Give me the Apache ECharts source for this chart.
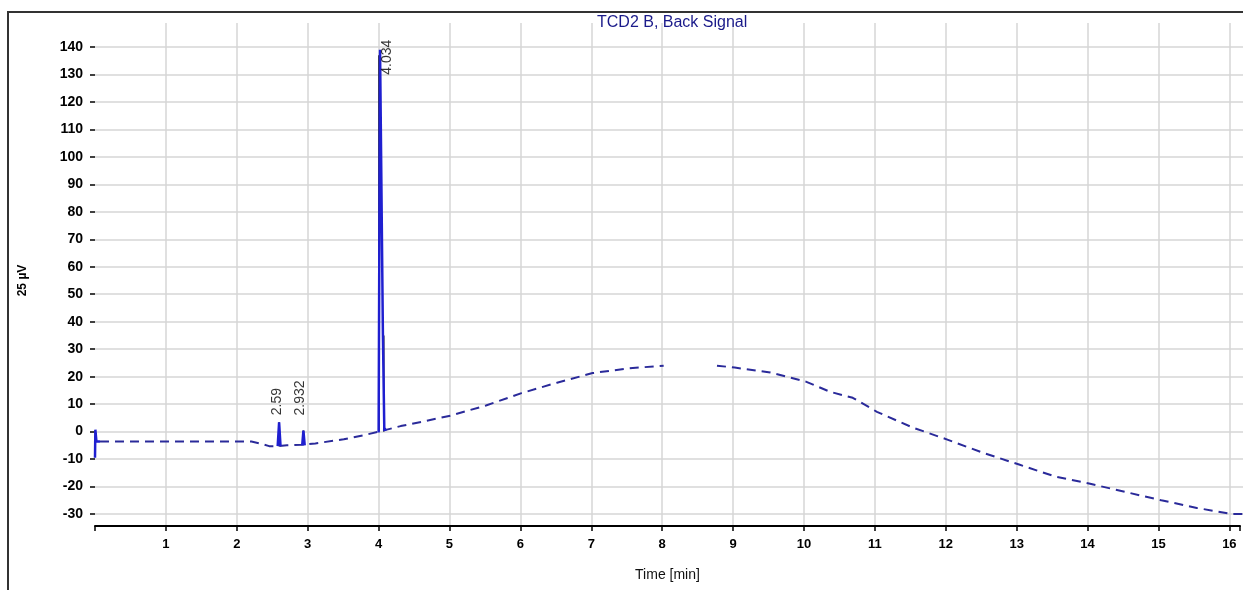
<!DOCTYPE html>
<html>
<head>
<meta charset="utf-8">
<script src="https://cdn.jsdelivr.net/npm/echarts@6/dist/echarts.min.js"></script>
<style>
  html, body { margin: 0; padding: 0; background: #fff; }
  #chart { width: 1243px; height: 590px; }
</style>
</head>
<body>
<div id="chart"></div>
<script>
// signal baseline (dashed trace), time in min / value in 25 µV units
const baseTime = [0.07, 1.0, 2.2, 2.35, 2.45, 2.55, 2.7, 2.9, 3.1, 3.5, 3.8, 4.0, 4.3, 4.6, 5.0, 5.5, 6.0, 6.5, 7.0, 7.5, 8.0,
  null, 8.75, 9.0, 9.5, 10.0, 10.34, 10.66, 11.0, 11.5, 12.0, 12.5, 13.0, 13.5, 14.0, 14.5, 15.0, 15.5, 16.0, 16.15]
const baseValue = [-3.6, -3.6, -3.6, -4.5, -5.3, -5.3, -5.0, -4.8, -4.3, -2.8, -1.2, 0, 2, 3.6, 5.8, 9.5, 14, 17.8, 21.3, 23, 24,
  null, 24, 23.3, 21.5, 18.2, 14.5, 12.3, 7.2, 1.5, -3, -7.8, -12, -16.3, -19, -22, -25, -27.8, -30, -30]

// solid peak traces (start spike, 2.59, 2.932, 4.034)
const peakTime = [0, 0.005, 0.02, 0.07, null, 2.57, 2.59, 2.61, null, 2.915, 2.932, 2.95, null, 3.99, 4.01, 4.05, 4.07, 4.1]
const peakValue = [-9.5, 0.7, -3.6, -3.6, null, -5.3, 3.4, -5.3, null, -5, 0.4, -5, null, -0.3, 139, 36, 0.5, 1]

// integration markers (black)
const markTime = [2.59, 2.59, null, 2.932, 2.932, null, 3.995, 3.995, null, 4.062, 4.062]
const markValue = [-5.3, 3.4, null, -5, 0.4, null, 0, 137, null, 0, 35]

// retention time labels
const rtTime = [2.59, 2.932, 4.034]
const rtTop = [3.4, 0.4, 139]
const rtText = ['2.59', '2.932', '4.034']

const yMin = -30, yMax = 140, yStep = 10
const xMax = 16.15

const pairs = (xs, ys) => xs.map((x, i) => (x === null ? [null, null] : [x, ys[i]]))

const labelOffsets = [[0, -2], [0, -3], [-25, 5]]
const labelDist = [7, 15, 0]

const chart = echarts.init(document.getElementById('chart'), null, { renderer: 'canvas' })

const font = 'Liberation Sans, Arial, sans-serif'

const option = {
  backgroundColor: '#fff',
  animation: false,
  textStyle: { fontFamily: font },
  title: {
    text: 'TCD2 B, Back Signal',
    left: 592,
    top: 10,
    textStyle: { fontSize: 16, fontWeight: 'normal', color: '#1a1a8a', fontFamily: font },
  },
  graphic: [
    {
      type: 'rect',
      shape: { x: 8, y: 12, width: 1300, height: 700 },
      style: { fill: 'none', stroke: '#333', lineWidth: 2 },
      silent: true,
    },
  ],
  grid: [
    { left: 95, right: 0, top: 47, bottom: 76 },
    { left: 95, right: 0, top: 23, bottom: 64 },
  ],
  xAxis: [
    { gridIndex: 0, type: 'value', min: 0, max: xMax, show: false },
    {
      gridIndex: 1,
      type: 'value',
      min: 0,
      max: xMax,
      interval: 1,
      name: 'Time [min]',
      nameLocation: 'middle',
      nameGap: 42,
      nameTextStyle: { fontSize: 14, color: '#111' },
      axisLine: { onZero: false, lineStyle: { color: '#000', width: 2 } },
      axisTick: { length: 5, lineStyle: { color: '#000', width: 1.5 } },
      axisLabel: {
        color: '#000',
        fontSize: 13,
        fontWeight: 'bold',
        margin: 12,
        formatter: v => (v > 0 && Number.isInteger(v) ? String(v) : ''),
      },
      splitLine: { show: true, showMinLine: false, showMaxLine: false, lineStyle: { color: '#d6d6d6', width: 1.5 } },
    },
  ],
  yAxis: [
    {
      gridIndex: 0,
      type: 'value',
      min: yMin,
      max: yMax,
      interval: yStep,
      name: '25 µV',
      nameLocation: 'middle',
      nameRotate: 90,
      nameGap: 66,
      nameTextStyle: { fontSize: 12, fontWeight: 'bold', color: '#000' },
      axisLine: { show: false },
      axisTick: { show: true, length: 5, lineStyle: { color: '#000', width: 1.5 } },
      axisLabel: { color: '#000', fontSize: 14, fontWeight: 'bold', margin: 12 },
      splitLine: { lineStyle: { color: '#d6d6d6', width: 1.5 } },
    },
    { gridIndex: 1, type: 'value', min: yMin, max: yMax, show: false },
  ],
  series: [
    {
      name: 'markers',
      type: 'line',
      xAxisIndex: 0,
      yAxisIndex: 0,
      data: pairs(markTime, markValue),
      symbol: 'none',
      connectNulls: false,
      lineStyle: { color: '#111', width: 1.5 },
      z: 3,
    },
    {
      name: 'baseline',
      type: 'line',
      xAxisIndex: 0,
      yAxisIndex: 0,
      data: pairs(baseTime, baseValue),
      symbol: 'none',
      connectNulls: false,
      lineStyle: { color: '#2a2a9a', width: 2, type: [9, 6] },
      z: 4,
    },
    {
      name: 'peaks',
      type: 'line',
      xAxisIndex: 0,
      yAxisIndex: 0,
      data: pairs(peakTime, peakValue),
      symbol: 'none',
      connectNulls: false,
      lineStyle: { color: '#1f1fd0', width: 2.5 },
      z: 5,
    },
    {
      name: 'rt',
      type: 'scatter',
      xAxisIndex: 0,
      yAxisIndex: 0,
      symbolSize: 0,
      silent: true,
      z: 6,
      data: rtTime.map((t, i) => ({
        value: [t, rtTop[i]],
        label: {
          show: true,
          formatter: rtText[i],
          position: 'top',
          distance: labelDist[i],
          rotate: 90,
          align: 'left',
          verticalAlign: 'middle',
          offset: labelOffsets[i],
          fontSize: 14,
          color: '#000',
        },
      })),
    },
  ],
}

chart.setOption(option)
</script>
</body>
</html>
